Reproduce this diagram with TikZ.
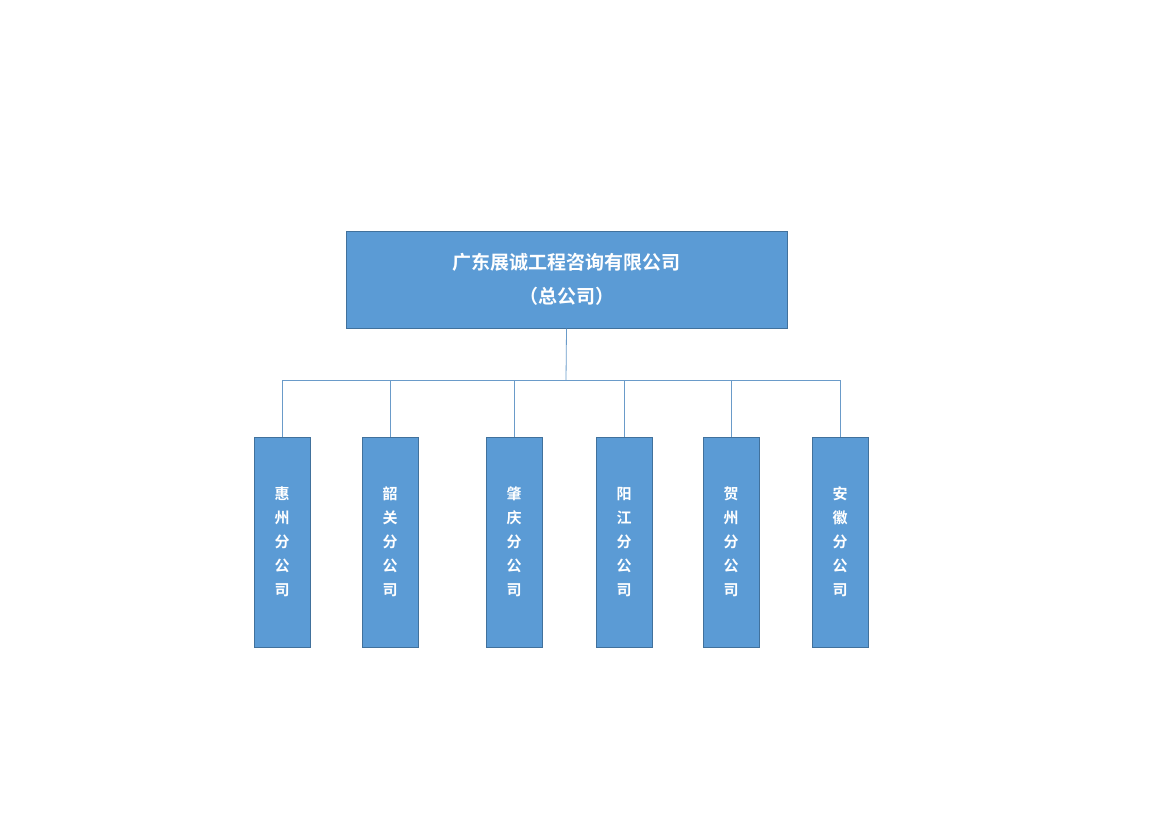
\documentclass[tikz,border=0pt]{standalone}
\usepackage{fontspec}
\newfontfamily\cjk{Noto Sans CJK SC Bold}
\definecolor{boxfill}{HTML}{5B9BD5}
\definecolor{boxline}{HTML}{41719C}
\definecolor{conn}{HTML}{6A9BC9}
\begin{document}
\begin{tikzpicture}[x=1pt,y=-1pt,
  topbox/.style={draw=boxline,fill=boxfill,line width=1pt,minimum width=441pt,minimum height=97pt,inner sep=0pt,text=white,font=\cjk\fontsize{19}{34}\selectfont,align=center},
  subbox/.style={draw=boxline,fill=boxfill,line width=1pt,minimum width=56pt,minimum height=210pt,inner sep=0pt,text=white,font=\cjk\fontsize{15}{24}\selectfont,align=center},
  link/.style={draw=conn,line width=0.8pt}]
\useasboundingbox (0,0) rectangle (1169,827);
\node[topbox] (top) at (566.5,279.5) {广东展诚工程咨询有限公司\\（总公司）};
\coordinate (bus) at (566,380);
\foreach \n/\x/\t in {a/282/惠\\州\\分\\公\\司, b/390/韶\\关\\分\\公\\司, c/514/肇\\庆\\分\\公\\司, d/624/阳\\江\\分\\公\\司, e/731/贺\\州\\分\\公\\司, f/840/安\\徽\\分\\公\\司}{
  \node[subbox] (\n) at (\x,542) {\t};
  \draw[link] (\n.north) -- (\x,380);
}
\draw[link] (top.south) -- (bus);
\draw[link] (a.north |- bus) -- (f.north |- bus);
\end{tikzpicture}
\end{document}
